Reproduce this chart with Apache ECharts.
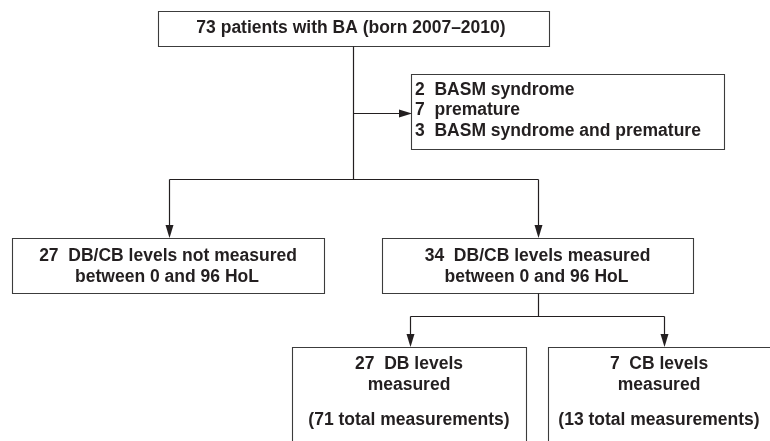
<!DOCTYPE html>
<html>
<head>
<meta charset="utf-8">
<script src="https://cdn.jsdelivr.net/npm/echarts@6/dist/echarts.min.js"></script>
<style>
  html, body { margin: 0; padding: 0; background: #fff; }
  #chart { width: 770px; height: 441px; }
</style>
</head>
<body>
<div id="chart"></div>
<script>
// ---- data (counts and labels) ----
const topCount = 73;
const topLabel = 'patients with BA (born 2007\u20132010)';
const excludedCounts = [2, 7, 3];
const excludedLabels = ['BASM syndrome', 'premature', 'BASM syndrome and premature'];
const splitCounts = [27, 34];
const splitLabels = [
  ['DB/CB levels not measured', 'between 0 and 96 HoL'],
  ['DB/CB levels measured', 'between 0 and 96 HoL']
];
const levelCounts = [27, 7];
const levelLabels = ['DB levels', 'CB levels'];
const measurementTotals = [71, 13];

// ---- layout / style ----
const FONT = 'bold 17.5px "Liberation Sans", Arial, sans-serif';
const TEXT = '#231f20';
const LINE = '#231f20';
const BORDER = '#3c3c3c';

const elements = [];
function box(x, y, w, h) {
  elements.push({ type: 'rect', shape: { x: x + 0.5, y: y + 0.5, width: w, height: h },
    style: { fill: '#fff', stroke: BORDER, lineWidth: 1.1 }, z: 1 });
}
function line(points) {
  elements.push({ type: 'polyline', shape: { points: points.map(p => [p[0] + 0.5, p[1] + 0.5]) },
    style: { stroke: LINE, lineWidth: 1.2, fill: null }, z: 2 });
}
function arrowDown(x, yTip) {
  elements.push({ type: 'polygon', shape: { points: [[x + 0.5 - 4, yTip - 13], [x + 0.5 + 4, yTip - 13], [x + 0.5, yTip]] },
    style: { fill: LINE }, z: 3 });
}
function arrowRight(xTip, y) {
  elements.push({ type: 'polygon', shape: { points: [[xTip - 13, y + 0.5 - 4], [xTip - 13, y + 0.5 + 4], [xTip, y + 0.5]] },
    style: { fill: LINE }, z: 3 });
}
function text(str, x, y, align) {
  elements.push({ type: 'text', x: x, y: y, z: 4,
    style: { text: str, font: FONT, fill: TEXT, align: align || 'center', verticalAlign: 'middle' } });
}

// boxes
box(158, 11, 391, 35);           // top
box(411, 74, 313, 75);           // exclusions
box(12, 238, 312, 55);           // not measured
box(382, 238, 311, 55);          // measured
box(292, 347, 234, 130);         // DB
box(548, 347, 226, 130);         // CB

// connectors
line([[353, 46], [353, 179]]);
line([[353, 113], [400, 113]]);
arrowRight(412, 113);
line([[169, 179], [538, 179]]);
line([[169, 179], [169, 228]]);
line([[538, 179], [538, 228]]);
arrowDown(169, 238);
arrowDown(538, 238);
line([[538, 293], [538, 316]]);
line([[410, 316], [664, 316]]);
line([[410, 316], [410, 337]]);
line([[664, 316], [664, 337]]);
arrowDown(410, 347);
arrowDown(664, 347);

// texts
text(topCount + ' ' + topLabel, 351, 28.5);
const exY = [90, 110.5, 131];
excludedCounts.forEach((c, i) => text(c + '  ' + excludedLabels[i], 415, exY[i], 'left'));
const splitX = [168, 537.5];
splitCounts.forEach((c, i) => {
  text(c + '  ' + splitLabels[i][0], splitX[i], 256);
  text(splitLabels[i][1], splitX[i] - 1, 277);
});
const levelX = [409, 659];
levelCounts.forEach((c, i) => {
  text(c + '  ' + levelLabels[i], levelX[i], 364.5);
  text('measured', levelX[i], 385);
  text('(' + measurementTotals[i] + ' total measurements)', levelX[i], 420);
});

const chart = echarts.init(document.getElementById('chart'), null, { renderer: 'canvas' });
chart.setOption({
  backgroundColor: '#ffffff',
  animation: false,
  graphic: { elements: elements }
});
</script>
</body>
</html>
